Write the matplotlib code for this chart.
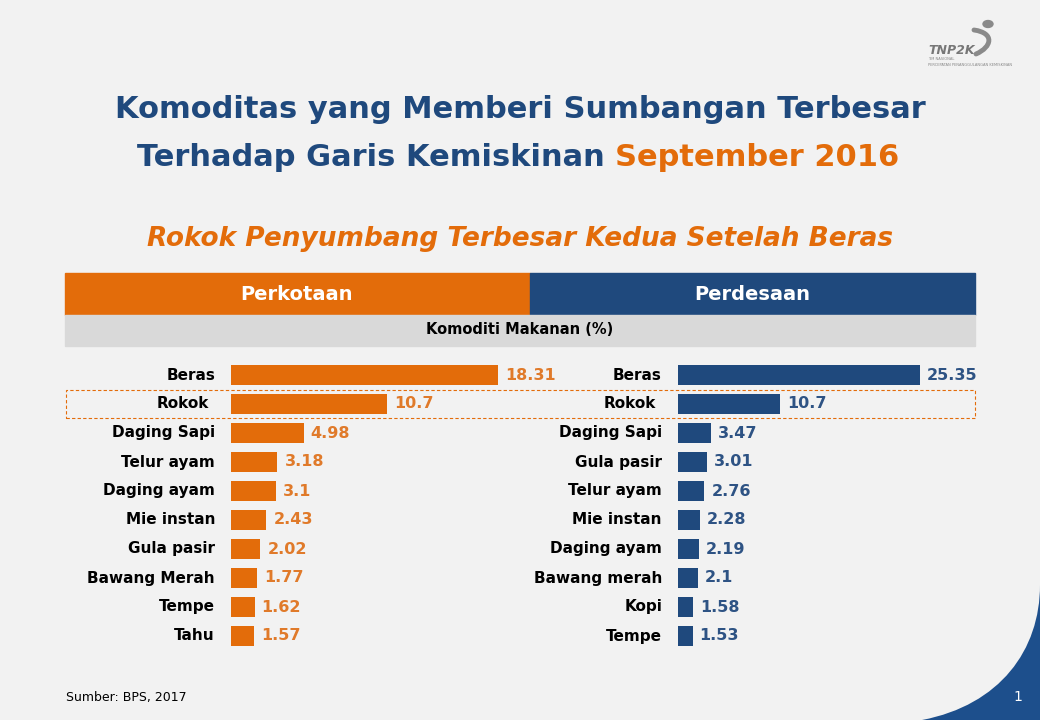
import numpy as np
import matplotlib
matplotlib.use("Agg")
import matplotlib.pyplot as plt
from matplotlib.patches import Rectangle, PathPatch, Circle
from matplotlib.path import Path
from matplotlib import transforms

# data
kota_labels = ["Beras", "Rokok", "Daging Sapi", "Telur ayam", "Daging ayam",
               "Mie instan", "Gula pasir", "Bawang Merah", "Tempe", "Tahu"]
kota_vals = [18.31, 10.7, 4.98, 3.18, 3.1, 2.43, 2.02, 1.77, 1.62, 1.57]
desa_labels = ["Beras", "Rokok", "Daging Sapi", "Gula pasir", "Telur ayam",
               "Mie instan", "Daging ayam", "Bawang merah", "Kopi", "Tempe"]
desa_vals = [25.35, 10.7, 3.47, 3.01, 2.76, 2.28, 2.19, 2.1, 1.58, 1.53]

ORANGE = "#e36c0a"
BLUE = "#1f497d"
BG = "#f2f2f2"
W, H = 1040, 720


def fx(x):
    return x / W


def fy(y):
    return 1 - y / H


fig = plt.figure(figsize=(10.4, 7.2), dpi=100, facecolor=BG)

# bottom-right decoration
verts = [(fx(922), fy(720)), (fx(1000), fy(705)), (fx(1040), fy(650)),
         (fx(1040), fy(585)), (fx(1040), fy(720)), (fx(922), fy(720))]
codes = [Path.MOVETO, Path.CURVE4, Path.CURVE4, Path.CURVE4,
         Path.LINETO, Path.CLOSEPOLY]
fig.patches.append(PathPatch(Path(verts, codes), transform=fig.transFigure,
                             facecolor="#1d4f8c", edgecolor="none"))
fig.text(fx(1018), fy(697), "1", color="white", fontsize=10,
         ha="center", va="center")

# logo
fig.patches.append(Circle((fx(988), fy(24)), 5 / W, transform=fig.transFigure,
                          color="#8a8a8a"))
swoosh = [(fx(974), fy(30)), (fx(995), fy(33)), (fx(992), fy(47)),
          (fx(976), fy(54))]
fig.patches.append(PathPatch(Path(swoosh, [Path.MOVETO, Path.CURVE4,
                                           Path.CURVE4, Path.CURVE4]),
                             transform=fig.transFigure, fill=False,
                             edgecolor="#8a8a8a", lw=3.5, capstyle="round"))
fig.text(fx(928), fy(50), "TNP2K", color="#777777", fontsize=9,
         fontweight="bold", style="italic", ha="left", va="center")
fig.text(fx(928), fy(62), "TIM NASIONAL\nPERCEPATAN PENANGGULANGAN KEMISKINAN",
         color="#888888", fontsize=2.6, ha="left", va="center", linespacing=1.4)

# titles
fig.text(0.5, fy(110), "Komoditas yang Memberi Sumbangan Terbesar",
         color=BLUE, fontsize=22, fontweight="bold", ha="center", va="center")
t1 = fig.text(fx(137), fy(157), "Terhadap Garis Kemiskinan ", color=BLUE,
              fontsize=22, fontweight="bold", ha="left", va="center")
fig.canvas.draw()
bb = t1.get_window_extent()
fig.text(bb.x1 / W, fy(157), "September 2016", color=ORANGE,
         fontsize=22, fontweight="bold", ha="left", va="center")
fig.text(0.5, fy(239), "Rokok Penyumbang Terbesar Kedua Setelah Beras",
         color=ORANGE, fontsize=19, fontweight="bold", style="italic",
         ha="center", va="center")

# header bars
fig.patches.append(Rectangle((fx(65), fy(315)), (530 - 65) / W, 42 / H,
                             transform=fig.transFigure, color=ORANGE))
fig.patches.append(Rectangle((fx(530), fy(315)), (975 - 530) / W, 42 / H,
                             transform=fig.transFigure, color=BLUE))
fig.patches.append(Rectangle((fx(65), fy(346)), (975 - 65) / W, 31 / H,
                             transform=fig.transFigure, color="#d9d9d9"))
fig.text(fx(297), fy(295), "Perkotaan", color="white", fontsize=14,
         fontweight="bold", ha="center", va="center")
fig.text(fx(752), fy(295), "Perdesaan", color="white", fontsize=14,
         fontweight="bold", ha="center", va="center")
fig.text(0.5, fy(330), "Komoditi Makanan (%)", color="black", fontsize=10.5,
         fontweight="bold", ha="center", va="center")

# dashed box around Rokok
fig.patches.append(Rectangle((fx(66), fy(418)), (975 - 66) / W, 28 / H,
                             transform=fig.transFigure, fill=False,
                             edgecolor=ORANGE, lw=0.8, ls=(0, (3, 2))))


def panel(x0, scale, labels, vals, color, vcolor, width_px):
    ax = fig.add_axes([fx(x0), fy(650.5), width_px / W, 290 / H])
    ax.set_xlim(0, width_px / scale)
    ax.set_ylim(len(vals) - 0.5, -0.5)
    ax.axis("off")
    y = np.arange(len(vals))
    ax.barh(y, vals, height=0.72, color=color)
    lab_tr = transforms.offset_copy(ax.transData, fig=fig, x=-16, y=0,
                                    units="dots")
    val_tr = transforms.offset_copy(ax.transData, fig=fig, x=7, y=0,
                                    units="dots")
    for i, (lab, v) in enumerate(zip(labels, vals)):
        shift = -6 if lab == "Rokok" else 0
        ax.text(0, i, lab, transform=transforms.offset_copy(
                    lab_tr, fig=fig, x=shift, y=0, units="dots"),
                ha="right", va="center", fontsize=11, fontweight="bold",
                color="black")
        ax.text(v, i, f"{v:g}", transform=val_tr, ha="left", va="center",
                fontsize=11.5, fontweight="bold", color=vcolor)
    return ax


panel(231, 14.6, kota_labels, kota_vals, ORANGE, "#e07a2a", 290)
panel(678, 9.55, desa_labels, desa_vals, BLUE, "#2e5384", 290)

fig.text(fx(66), fy(697), "Sumber: BPS, 2017", color="black", fontsize=9,
         ha="left", va="center")

fig.savefig("out.png", dpi=100, facecolor=BG)
